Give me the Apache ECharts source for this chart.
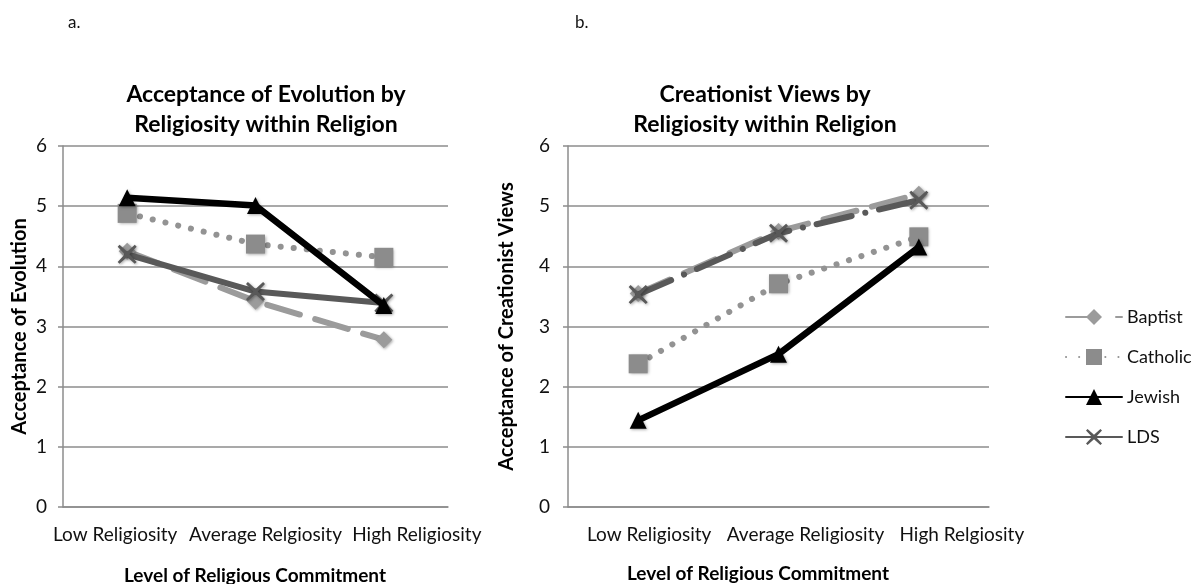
<!DOCTYPE html>
<html><head><meta charset="utf-8">
<script src="https://cdn.jsdelivr.net/npm/echarts@6/dist/echarts.min.js"></script>
<style>html,body{margin:0;padding:0;background:#fff}#c{width:1195px;height:584px}</style>
</head><body><div id="c"></div>
<script>
const categoriesA = ['Low Religiosity', 'Average Relgiosity', 'High Religiosity'];
const categoriesB = ['Low Religiosity', 'Average Religiosity', 'High Relgiosity'];
const yTicks = [0, 1, 2, 3, 4, 5, 6];
const seriesNames = ['Baptist', 'Catholic', 'Jewish', 'LDS'];
// Chart a: Acceptance of Evolution
const evoBaptist  = [4.25, 3.42, 2.78];
const evoCatholic = [4.88, 4.37, 4.15];
const evoJewish   = [5.14, 5.01, 3.35];
const evoLDS      = [4.20, 3.58, 3.39];
// Chart b: Creationist Views
const creBaptist  = [3.55, 4.58, 5.20];
const creCatholic = [2.38, 3.71, 4.49];
const creJewish   = [1.44, 2.54, 4.32];
const creLDS      = [3.53, 4.55, 5.10];

const FONT = 'Lato, "Open Sans", sans-serif';
const X_SYM = 'path://M1,0 L5,3.6 L9,0 L10,1 L6.2,5 L10,9 L9,10 L5,6.4 L1,10 L0,9 L3.8,5 L0,1 Z';
const shadow = {shadowBlur: 3, shadowColor: 'rgba(0,0,0,0.35)', shadowOffsetX: 1, shadowOffsetY: 1};

function mk(name, data, idx, variant) {
  const base = {name, type: 'line', data, xAxisIndex: idx, yAxisIndex: idx, animation: false, symbolKeepAspect: true};
  if (name === 'Baptist') return Object.assign(base, {
    z: 2, symbol: 'diamond', symbolSize: 17,
    lineStyle: {color: '#9b9b9b', width: 6, type: [34, 16], cap: 'round'},
    itemStyle: Object.assign({color: '#9b9b9b'}, shadow)});
  if (name === 'Catholic') return Object.assign(base, {
    z: 3, symbol: 'rect', symbolSize: 19,
    lineStyle: {color: '#939393', width: 6, type: [0.1, 13], cap: 'round'},
    itemStyle: Object.assign({color: '#8c8c8c'}, shadow)});
  if (name === 'Jewish') return Object.assign(base, {
    z: 5, symbol: 'triangle', symbolSize: 17,
    lineStyle: {color: '#000', width: 6.5, cap: 'round'},
    itemStyle: Object.assign({color: '#000'}, shadow)});
  return Object.assign(base, {
    z: 4, symbol: X_SYM, symbolSize: 19,
    lineStyle: {color: '#595959', width: 6, cap: 'round', type: variant === 'b' ? [36, 14, 0.1, 14] : 'solid'},
    itemStyle: Object.assign({color: '#595959'}, shadow)});
}

function yAx(idx, gap, margin, name) {
  return {gridIndex: idx, type: 'value', min: 0, max: 6, interval: 1,
    name, nameLocation: 'middle', nameGap: gap, nameRotate: 90,
    nameTextStyle: {fontFamily: FONT, fontSize: 20, fontWeight: 'bold', color: '#000'},
    axisLine: {show: true, lineStyle: {color: '#8c8c8c', width: 1.5}},
    axisTick: {show: true, length: 5, lineStyle: {color: '#8c8c8c', width: 1.5}},
    axisLabel: {margin, fontFamily: FONT, fontSize: 19, color: '#111',
      formatter: v => yTicks.includes(v) ? String(v) : ''},
    splitLine: {show: true, lineStyle: {color: '#8c8c8c', width: 1.5}}};
}
// per-label horizontal padding [left, right] so the labels sit where the reference has them
function xAx(idx, cats, pads) {
  const rich = {};
  pads.forEach((p, i) => { rich['p' + i] = {fontFamily: FONT, fontSize: 19, color: '#111', padding: [0, p[1], 0, p[0]]}; });
  return {gridIndex: idx, type: 'category', data: cats, boundaryGap: true,
    axisLine: {show: true, lineStyle: {color: '#8c8c8c', width: 1.5}},
    axisTick: {show: false},
    axisLabel: {margin: 18, fontFamily: FONT, fontSize: 19, color: '#111', interval: 0,
      formatter: (v, i) => '{p' + i + '|' + v + '}', rich}};
}

const chart = echarts.init(document.getElementById('c'), null, {renderer: 'canvas'});
chart.setOption({
  backgroundColor: '#fff',
  animation: false,
  title: [
    {text: 'a.', left: 63, top: 9, textStyle: {fontFamily: FONT, fontSize: 17, fontWeight: 'normal', color: '#111'}},
    {text: 'b.', left: 570, top: 9, textStyle: {fontFamily: FONT, fontSize: 17, fontWeight: 'normal', color: '#111'}},
    {text: 'Acceptance of Evolution by\nReligiosity within Religion', left: 261, top: 75, textAlign: 'center',
      textStyle: {fontFamily: FONT, fontSize: 23, fontWeight: 'bold', color: '#000', lineHeight: 30, align: 'center'}},
    {text: 'Creationist Views by\nReligiosity within Religion', left: 760, top: 75, textAlign: 'center',
      textStyle: {fontFamily: FONT, fontSize: 23, fontWeight: 'bold', color: '#000', lineHeight: 30, align: 'center'}},
    {text: 'Level of Religious Commitment', left: 250, top: 561, textAlign: 'center',
      textStyle: {fontFamily: FONT, fontSize: 19, fontWeight: 'bold', color: '#000'}},
    {text: 'Level of Religious Commitment', left: 753, top: 559, textAlign: 'center',
      textStyle: {fontFamily: FONT, fontSize: 19, fontWeight: 'bold', color: '#000'}}
  ],
  legend: {data: seriesNames, orient: 'vertical', left: 1060, top: 303, itemGap: 22,
    itemWidth: 56, itemHeight: 20,
    textStyle: {fontFamily: FONT, fontSize: 18, color: '#111'}},
  grid: [
    {left: 63, top: 146, width: 385, height: 361},
    {left: 568, top: 146, width: 421, height: 361}
  ],
  xAxis: [
    xAx(0, categoriesA, [[0, 24], [20, 0], [66, 0]]),
    xAx(1, categoriesB, [[22, 0], [54, 0], [86, 0]])
  ],
  yAxis: [yAx(0, 33, 16, 'Acceptance of Evolution'), yAx(1, 51, 18, 'Acceptance of Creationist Views')],
  series: [
    mk('Baptist', evoBaptist, 0), mk('Catholic', evoCatholic, 0), mk('Jewish', evoJewish, 0), mk('LDS', evoLDS, 0),
    mk('Baptist', creBaptist, 1, 'b'), mk('Catholic', creCatholic, 1, 'b'), mk('Jewish', creJewish, 1, 'b'), mk('LDS', creLDS, 1, 'b')
  ]
});
</script></body></html>
